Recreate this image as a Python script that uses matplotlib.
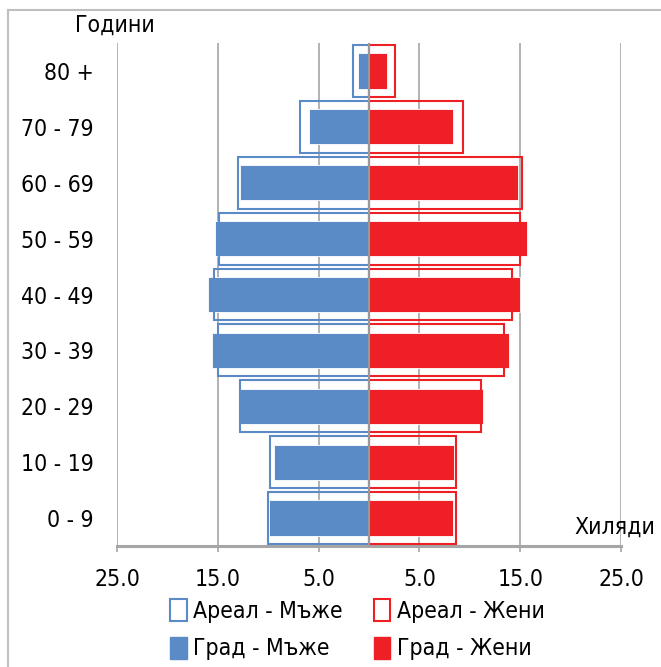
import numpy as np
import matplotlib.pyplot as plt
from matplotlib.patches import Patch
from matplotlib.lines import Line2D

plt.rcParams["font.family"] = ["DejaVu Sans"]
plt.rcParams["font.stretch"] = "condensed"

# Data (thousands), bottom to top
groups = ["0 - 9", "10 - 19", "20 - 29", "30 - 39", "40 - 49",
          "50 - 59", "60 - 69", "70 - 79", "80 +"]
areal_men = [10.0, 9.8, 12.8, 15.0, 15.4, 14.9, 13.0, 6.8, 1.6]
areal_women = [8.6, 8.6, 11.1, 13.4, 14.2, 15.0, 15.2, 9.3, 2.6]
grad_men = [9.9, 9.4, 12.9, 15.6, 16.0, 15.3, 12.8, 6.0, 1.1]
grad_women = [8.3, 8.4, 11.3, 13.9, 15.0, 15.7, 14.8, 8.3, 1.8]
xticks = [-25, -15, -5, 5, 15, 25]
xticklabels = ["25.0", "15.0", "5.0", "5.0", "15.0", "25.0"]

blue = "#5A8BC7"
red = "#EE1F25"
grid = "#A6A6A6"

fig = plt.figure(figsize=(6.61, 6.67), dpi=100)
ax = fig.add_axes([117 / 661, 1 - 546 / 667, 504 / 661, 503 / 667])

y = np.arange(len(groups))

# Areal outlines (wide), Grad filled (narrow)
ax.barh(y, -np.array(areal_men), height=0.93, fill=False,
        edgecolor=blue, linewidth=1.5, zorder=3)
ax.barh(y, areal_women, height=0.93, fill=False,
        edgecolor=red, linewidth=1.5, zorder=3)
ax.barh(y, -np.array(grad_men), height=0.63, color=blue,
        edgecolor="white", linewidth=0.6, zorder=2)
ax.barh(y, grad_women, height=0.63, color=red,
        edgecolor="white", linewidth=0.6, zorder=2)

ax.axvline(0, color="#999999", linewidth=1.5, zorder=4)
for xv in xticks:
    ax.axvline(xv, color=grid, linewidth=1.2, zorder=1)

ax.set_xlim(-25, 25)
ax.set_ylim(-0.5, 8.5)
ax.set_xticks(xticks)
ax.set_xticklabels(xticklabels, fontsize=16.5)
ax.set_yticks(y)
ax.set_yticklabels(groups, fontsize=16.5)
ax.tick_params(axis="y", length=0, pad=17)
ax.tick_params(axis="x", length=4, color=grid, width=1.2, pad=12)
for s in ["left", "right", "top"]:
    ax.spines[s].set_visible(False)
ax.spines["bottom"].set_color(grid)
ax.spines["bottom"].set_linewidth(2.2)

fig.text(115 / 661, 1 - 25 / 667, "Години", fontsize=16.5, ha="center", va="center")
fig.text(655 / 661, 1 - 527 / 667, "Хиляди", fontsize=16.5, ha="right", va="center")

handles = [
    Patch(facecolor="white", edgecolor=blue, linewidth=1.5, label="Ареал - Мъже"),
    Patch(facecolor=blue, edgecolor=blue, label="Град - Мъже"),
    Patch(facecolor="white", edgecolor=red, linewidth=1.5, label="Ареал - Жени"),
    Patch(facecolor=red, edgecolor=red, label="Град - Жени"),
]
fig.legend(handles=handles, ncol=2, loc="center", bbox_to_anchor=(0.541, 0.056),
           frameon=False, fontsize=16.5, handlelength=0.7, handleheight=1.1,
           handletextpad=0.3, columnspacing=1.35, labelspacing=0.6)

# outer chart border (left and top visible)
fig.add_artist(Line2D([8 / 661, 8 / 661], [0, 1 - 10 / 667], color="#BFBFBF", lw=1.5))
fig.add_artist(Line2D([8 / 661, 1], [1 - 10 / 667, 1 - 10 / 667], color="#BFBFBF", lw=1.5))

fig.savefig("out.png", dpi=100)
